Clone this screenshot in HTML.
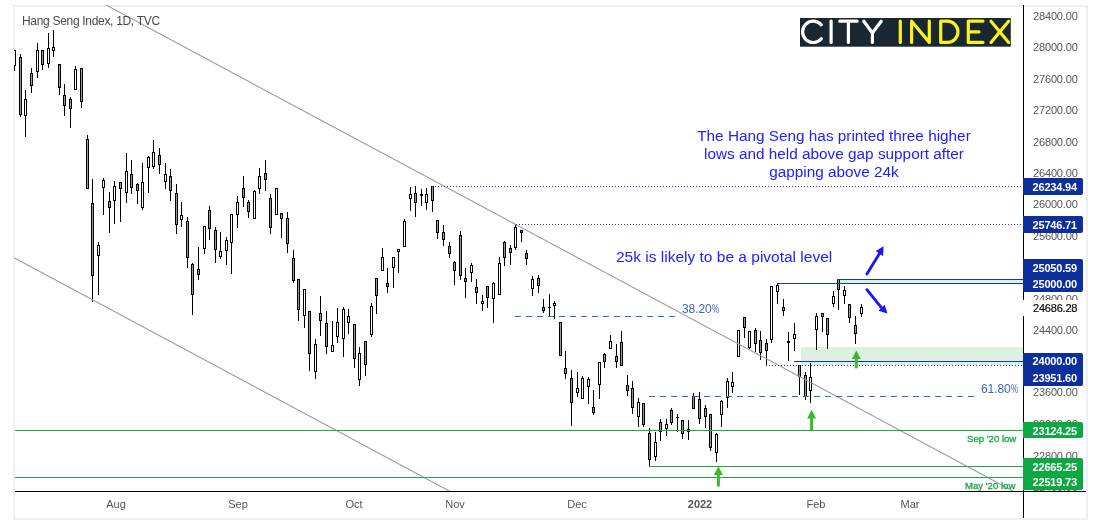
<!DOCTYPE html>
<html><head><meta charset="utf-8">
<style>
html,body{margin:0;padding:0;background:#fff;}
body{width:1097px;height:524px;overflow:hidden;position:relative;font-family:"Liberation Sans",sans-serif;}
#frame{position:absolute;left:13px;top:5px;width:1075px;height:515px;box-sizing:border-box;border:2px solid #eef0f5;}
svg{position:absolute;left:0;top:0;}
.t{position:absolute;white-space:nowrap;}
.t,.ann,.pl,.bx,.xl{will-change:transform;}
.pl{position:absolute;left:1033px;font-size:11px;line-height:11px;color:#555;letter-spacing:-0.15px;}
.bx{position:absolute;left:1023px;width:59.9px;height:16px;overflow:hidden;box-sizing:border-box;border-radius:0 2px 2px 0;color:#fff;font-weight:bold;font-size:11px;line-height:16px;padding-left:9.6px;letter-spacing:-0.2px;}
.bl{background:#0d2f9c;}
.gr{background:#0ea843;}
.xl{position:absolute;top:498px;font-size:11px;line-height:12px;color:#555;transform:translateX(-50%);}
.ann{position:absolute;color:#2020ff;font-size:15.33px;line-height:17.9px;text-align:center;white-space:nowrap;}
</style></head><body>
<div id="frame"></div>
<svg width="1097" height="524" viewBox="0 0 1097 524">
<defs><clipPath id="cp"><rect x="14" y="5" width="1010" height="486"/></clipPath></defs>
<g clip-path="url(#cp)">
<g shape-rendering="crispEdges">
<rect x="801" y="347" width="223" height="18" fill="#dcf1e2"/>
<rect x="838" y="280" width="186" height="3" fill="#dcf1e2"/>
<rect x="14" y="66" width="1" height="5" fill="#000"/>
<rect x="13" y="50" width="3" height="16" fill="#000"/>
<rect x="14" y="51" width="1" height="14" fill="#fff"/>
<rect x="20" y="54" width="1" height="3" fill="#000"/>
<rect x="20" y="115" width="1" height="2" fill="#000"/>
<rect x="19" y="57" width="3" height="58" fill="#000"/>
<rect x="20" y="58" width="1" height="56" fill="#9598a1"/>
<rect x="25" y="90" width="1" height="9" fill="#000"/>
<rect x="25" y="116" width="1" height="21" fill="#000"/>
<rect x="24" y="99" width="3" height="17" fill="#000"/>
<rect x="25" y="100" width="1" height="15" fill="#fff"/>
<rect x="31" y="68" width="1" height="5" fill="#000"/>
<rect x="31" y="86" width="1" height="7" fill="#000"/>
<rect x="30" y="73" width="3" height="13" fill="#000"/>
<rect x="31" y="74" width="1" height="11" fill="#9598a1"/>
<rect x="37" y="43" width="1" height="7" fill="#000"/>
<rect x="37" y="72" width="1" height="6" fill="#000"/>
<rect x="36" y="50" width="3" height="22" fill="#000"/>
<rect x="37" y="51" width="1" height="20" fill="#fff"/>
<rect x="42" y="65" width="1" height="5" fill="#000"/>
<rect x="41" y="50" width="3" height="15" fill="#000"/>
<rect x="42" y="51" width="1" height="13" fill="#9598a1"/>
<rect x="48" y="33" width="1" height="15" fill="#000"/>
<rect x="48" y="64" width="1" height="4" fill="#000"/>
<rect x="47" y="48" width="3" height="16" fill="#000"/>
<rect x="48" y="49" width="1" height="14" fill="#fff"/>
<rect x="53" y="30" width="1" height="17" fill="#000"/>
<rect x="53" y="51" width="1" height="6" fill="#000"/>
<rect x="52" y="47" width="3" height="4" fill="#000"/>
<rect x="53" y="48" width="1" height="2" fill="#fff"/>
<rect x="59" y="88" width="1" height="7" fill="#000"/>
<rect x="58" y="64" width="3" height="24" fill="#000"/>
<rect x="59" y="65" width="1" height="22" fill="#9598a1"/>
<rect x="64" y="84" width="1" height="11" fill="#000"/>
<rect x="64" y="106" width="1" height="10" fill="#000"/>
<rect x="63" y="95" width="3" height="11" fill="#000"/>
<rect x="64" y="96" width="1" height="9" fill="#9598a1"/>
<rect x="70" y="97" width="1" height="2" fill="#000"/>
<rect x="70" y="109" width="1" height="19" fill="#000"/>
<rect x="69" y="99" width="3" height="10" fill="#000"/>
<rect x="70" y="100" width="1" height="8" fill="#9598a1"/>
<rect x="75" y="66" width="1" height="3" fill="#000"/>
<rect x="74" y="69" width="3" height="21" fill="#000"/>
<rect x="75" y="70" width="1" height="19" fill="#fff"/>
<rect x="81" y="102" width="1" height="6" fill="#000"/>
<rect x="80" y="68" width="3" height="34" fill="#000"/>
<rect x="81" y="69" width="1" height="32" fill="#9598a1"/>
<rect x="87" y="135" width="1" height="4" fill="#000"/>
<rect x="86" y="139" width="3" height="50" fill="#000"/>
<rect x="87" y="140" width="1" height="48" fill="#9598a1"/>
<rect x="92" y="179" width="1" height="24" fill="#000"/>
<rect x="92" y="276" width="1" height="26" fill="#000"/>
<rect x="91" y="203" width="3" height="73" fill="#000"/>
<rect x="92" y="204" width="1" height="71" fill="#9598a1"/>
<rect x="98" y="242" width="1" height="3" fill="#000"/>
<rect x="98" y="256" width="1" height="39" fill="#000"/>
<rect x="97" y="245" width="3" height="11" fill="#000"/>
<rect x="98" y="246" width="1" height="9" fill="#fff"/>
<rect x="103" y="178" width="1" height="2" fill="#000"/>
<rect x="103" y="188" width="1" height="27" fill="#000"/>
<rect x="102" y="180" width="3" height="8" fill="#000"/>
<rect x="103" y="181" width="1" height="6" fill="#fff"/>
<rect x="109" y="192" width="1" height="9" fill="#000"/>
<rect x="109" y="208" width="1" height="25" fill="#000"/>
<rect x="108" y="201" width="3" height="7" fill="#000"/>
<rect x="109" y="202" width="1" height="5" fill="#9598a1"/>
<rect x="114" y="181" width="1" height="5" fill="#000"/>
<rect x="114" y="201" width="1" height="23" fill="#000"/>
<rect x="113" y="186" width="3" height="15" fill="#000"/>
<rect x="114" y="187" width="1" height="13" fill="#fff"/>
<rect x="120" y="189" width="1" height="33" fill="#000"/>
<rect x="119" y="182" width="3" height="7" fill="#000"/>
<rect x="120" y="183" width="1" height="5" fill="#9598a1"/>
<rect x="126" y="153" width="1" height="18" fill="#000"/>
<rect x="126" y="193" width="1" height="10" fill="#000"/>
<rect x="125" y="171" width="3" height="22" fill="#000"/>
<rect x="126" y="172" width="1" height="20" fill="#fff"/>
<rect x="131" y="160" width="1" height="14" fill="#000"/>
<rect x="131" y="188" width="1" height="6" fill="#000"/>
<rect x="130" y="174" width="3" height="14" fill="#000"/>
<rect x="131" y="175" width="1" height="12" fill="#9598a1"/>
<rect x="137" y="183" width="1" height="1" fill="#000"/>
<rect x="137" y="191" width="1" height="13" fill="#000"/>
<rect x="136" y="184" width="3" height="7" fill="#000"/>
<rect x="137" y="185" width="1" height="5" fill="#9598a1"/>
<rect x="142" y="163" width="1" height="19" fill="#000"/>
<rect x="142" y="208" width="1" height="2" fill="#000"/>
<rect x="141" y="182" width="3" height="26" fill="#000"/>
<rect x="142" y="183" width="1" height="24" fill="#fff"/>
<rect x="148" y="156" width="1" height="1" fill="#000"/>
<rect x="148" y="168" width="1" height="25" fill="#000"/>
<rect x="147" y="157" width="3" height="11" fill="#000"/>
<rect x="148" y="158" width="1" height="9" fill="#fff"/>
<rect x="153" y="140" width="1" height="12" fill="#000"/>
<rect x="153" y="167" width="1" height="2" fill="#000"/>
<rect x="152" y="152" width="3" height="15" fill="#000"/>
<rect x="153" y="153" width="1" height="13" fill="#fff"/>
<rect x="159" y="148" width="1" height="7" fill="#000"/>
<rect x="159" y="165" width="1" height="9" fill="#000"/>
<rect x="158" y="155" width="3" height="10" fill="#000"/>
<rect x="159" y="156" width="1" height="8" fill="#9598a1"/>
<rect x="165" y="163" width="1" height="11" fill="#000"/>
<rect x="165" y="182" width="1" height="7" fill="#000"/>
<rect x="164" y="174" width="3" height="8" fill="#000"/>
<rect x="165" y="175" width="1" height="6" fill="#fff"/>
<rect x="170" y="169" width="1" height="7" fill="#000"/>
<rect x="170" y="191" width="1" height="10" fill="#000"/>
<rect x="169" y="176" width="3" height="15" fill="#000"/>
<rect x="170" y="177" width="1" height="13" fill="#9598a1"/>
<rect x="176" y="184" width="1" height="9" fill="#000"/>
<rect x="176" y="225" width="1" height="9" fill="#000"/>
<rect x="175" y="193" width="3" height="32" fill="#000"/>
<rect x="176" y="194" width="1" height="30" fill="#9598a1"/>
<rect x="181" y="202" width="1" height="13" fill="#000"/>
<rect x="181" y="220" width="1" height="7" fill="#000"/>
<rect x="180" y="215" width="3" height="5" fill="#000"/>
<rect x="181" y="216" width="1" height="3" fill="#fff"/>
<rect x="187" y="217" width="1" height="4" fill="#000"/>
<rect x="187" y="258" width="1" height="10" fill="#000"/>
<rect x="186" y="221" width="3" height="37" fill="#000"/>
<rect x="187" y="222" width="1" height="35" fill="#9598a1"/>
<rect x="192" y="263" width="1" height="1" fill="#000"/>
<rect x="192" y="295" width="1" height="20" fill="#000"/>
<rect x="191" y="264" width="3" height="31" fill="#000"/>
<rect x="192" y="265" width="1" height="29" fill="#9598a1"/>
<rect x="198" y="247" width="1" height="22" fill="#000"/>
<rect x="198" y="275" width="1" height="5" fill="#000"/>
<rect x="197" y="269" width="3" height="6" fill="#000"/>
<rect x="198" y="270" width="1" height="4" fill="#9598a1"/>
<rect x="204" y="249" width="1" height="5" fill="#000"/>
<rect x="203" y="226" width="3" height="23" fill="#000"/>
<rect x="204" y="227" width="1" height="21" fill="#fff"/>
<rect x="209" y="206" width="1" height="4" fill="#000"/>
<rect x="209" y="229" width="1" height="11" fill="#000"/>
<rect x="208" y="210" width="3" height="19" fill="#000"/>
<rect x="209" y="211" width="1" height="17" fill="#9598a1"/>
<rect x="215" y="227" width="1" height="3" fill="#000"/>
<rect x="215" y="250" width="1" height="13" fill="#000"/>
<rect x="214" y="230" width="3" height="20" fill="#000"/>
<rect x="215" y="231" width="1" height="18" fill="#9598a1"/>
<rect x="220" y="232" width="1" height="19" fill="#000"/>
<rect x="220" y="257" width="1" height="2" fill="#000"/>
<rect x="219" y="251" width="3" height="6" fill="#000"/>
<rect x="220" y="252" width="1" height="4" fill="#fff"/>
<rect x="226" y="237" width="1" height="3" fill="#000"/>
<rect x="226" y="251" width="1" height="14" fill="#000"/>
<rect x="225" y="240" width="3" height="11" fill="#000"/>
<rect x="226" y="241" width="1" height="9" fill="#fff"/>
<rect x="231" y="243" width="1" height="31" fill="#000"/>
<rect x="230" y="214" width="3" height="29" fill="#000"/>
<rect x="231" y="215" width="1" height="27" fill="#fff"/>
<rect x="237" y="196" width="1" height="6" fill="#000"/>
<rect x="237" y="215" width="1" height="13" fill="#000"/>
<rect x="236" y="202" width="3" height="13" fill="#000"/>
<rect x="237" y="203" width="1" height="11" fill="#fff"/>
<rect x="243" y="176" width="1" height="12" fill="#000"/>
<rect x="243" y="198" width="1" height="9" fill="#000"/>
<rect x="242" y="188" width="3" height="10" fill="#000"/>
<rect x="243" y="189" width="1" height="8" fill="#9598a1"/>
<rect x="248" y="200" width="1" height="2" fill="#000"/>
<rect x="248" y="212" width="1" height="6" fill="#000"/>
<rect x="247" y="202" width="3" height="10" fill="#000"/>
<rect x="248" y="203" width="1" height="8" fill="#9598a1"/>
<rect x="254" y="190" width="1" height="1" fill="#000"/>
<rect x="253" y="191" width="3" height="28" fill="#000"/>
<rect x="254" y="192" width="1" height="26" fill="#fff"/>
<rect x="259" y="168" width="1" height="8" fill="#000"/>
<rect x="259" y="189" width="1" height="5" fill="#000"/>
<rect x="258" y="176" width="3" height="13" fill="#000"/>
<rect x="259" y="177" width="1" height="11" fill="#fff"/>
<rect x="265" y="160" width="1" height="13" fill="#000"/>
<rect x="265" y="180" width="1" height="11" fill="#000"/>
<rect x="264" y="173" width="3" height="7" fill="#000"/>
<rect x="265" y="174" width="1" height="5" fill="#9598a1"/>
<rect x="270" y="194" width="1" height="4" fill="#000"/>
<rect x="270" y="228" width="1" height="6" fill="#000"/>
<rect x="269" y="198" width="3" height="30" fill="#000"/>
<rect x="270" y="199" width="1" height="28" fill="#9598a1"/>
<rect x="275" y="188" width="3" height="27" fill="#000"/>
<rect x="276" y="189" width="1" height="25" fill="#fff"/>
<rect x="281" y="219" width="1" height="19" fill="#000"/>
<rect x="280" y="213" width="3" height="6" fill="#000"/>
<rect x="281" y="214" width="1" height="4" fill="#9598a1"/>
<rect x="287" y="212" width="1" height="6" fill="#000"/>
<rect x="287" y="244" width="1" height="9" fill="#000"/>
<rect x="286" y="218" width="3" height="26" fill="#000"/>
<rect x="287" y="219" width="1" height="24" fill="#9598a1"/>
<rect x="293" y="250" width="1" height="8" fill="#000"/>
<rect x="293" y="281" width="1" height="2" fill="#000"/>
<rect x="292" y="258" width="3" height="23" fill="#000"/>
<rect x="293" y="259" width="1" height="21" fill="#9598a1"/>
<rect x="298" y="310" width="1" height="11" fill="#000"/>
<rect x="297" y="279" width="3" height="31" fill="#000"/>
<rect x="298" y="280" width="1" height="29" fill="#9598a1"/>
<rect x="304" y="316" width="1" height="12" fill="#000"/>
<rect x="303" y="289" width="3" height="27" fill="#000"/>
<rect x="304" y="290" width="1" height="25" fill="#fff"/>
<rect x="309" y="354" width="1" height="17" fill="#000"/>
<rect x="308" y="311" width="3" height="43" fill="#000"/>
<rect x="309" y="312" width="1" height="41" fill="#9598a1"/>
<rect x="315" y="339" width="1" height="5" fill="#000"/>
<rect x="315" y="372" width="1" height="7" fill="#000"/>
<rect x="314" y="344" width="3" height="28" fill="#000"/>
<rect x="315" y="345" width="1" height="26" fill="#fff"/>
<rect x="320" y="296" width="1" height="17" fill="#000"/>
<rect x="320" y="321" width="1" height="15" fill="#000"/>
<rect x="319" y="313" width="3" height="8" fill="#000"/>
<rect x="320" y="314" width="1" height="6" fill="#9598a1"/>
<rect x="326" y="311" width="1" height="12" fill="#000"/>
<rect x="326" y="347" width="1" height="7" fill="#000"/>
<rect x="325" y="323" width="3" height="24" fill="#000"/>
<rect x="326" y="324" width="1" height="22" fill="#9598a1"/>
<rect x="332" y="321" width="1" height="24" fill="#000"/>
<rect x="331" y="345" width="3" height="7" fill="#000"/>
<rect x="332" y="346" width="1" height="5" fill="#fff"/>
<rect x="337" y="308" width="1" height="14" fill="#000"/>
<rect x="337" y="337" width="1" height="6" fill="#000"/>
<rect x="336" y="322" width="3" height="15" fill="#000"/>
<rect x="337" y="323" width="1" height="13" fill="#fff"/>
<rect x="343" y="307" width="1" height="2" fill="#000"/>
<rect x="343" y="339" width="1" height="18" fill="#000"/>
<rect x="342" y="309" width="3" height="30" fill="#000"/>
<rect x="343" y="310" width="1" height="28" fill="#fff"/>
<rect x="348" y="309" width="1" height="7" fill="#000"/>
<rect x="348" y="323" width="1" height="11" fill="#000"/>
<rect x="347" y="316" width="3" height="7" fill="#000"/>
<rect x="348" y="317" width="1" height="5" fill="#fff"/>
<rect x="354" y="359" width="1" height="9" fill="#000"/>
<rect x="353" y="324" width="3" height="35" fill="#000"/>
<rect x="354" y="325" width="1" height="33" fill="#9598a1"/>
<rect x="359" y="347" width="1" height="6" fill="#000"/>
<rect x="359" y="380" width="1" height="6" fill="#000"/>
<rect x="358" y="353" width="3" height="27" fill="#000"/>
<rect x="359" y="354" width="1" height="25" fill="#fff"/>
<rect x="365" y="365" width="1" height="11" fill="#000"/>
<rect x="364" y="341" width="3" height="24" fill="#000"/>
<rect x="365" y="342" width="1" height="22" fill="#9598a1"/>
<rect x="371" y="303" width="1" height="3" fill="#000"/>
<rect x="371" y="335" width="1" height="2" fill="#000"/>
<rect x="370" y="306" width="3" height="29" fill="#000"/>
<rect x="371" y="307" width="1" height="27" fill="#fff"/>
<rect x="376" y="296" width="1" height="18" fill="#000"/>
<rect x="375" y="278" width="3" height="18" fill="#000"/>
<rect x="376" y="279" width="1" height="16" fill="#9598a1"/>
<rect x="382" y="248" width="1" height="9" fill="#000"/>
<rect x="381" y="257" width="3" height="14" fill="#000"/>
<rect x="382" y="258" width="1" height="12" fill="#fff"/>
<rect x="387" y="268" width="1" height="15" fill="#000"/>
<rect x="387" y="287" width="1" height="6" fill="#000"/>
<rect x="386" y="283" width="3" height="4" fill="#000"/>
<rect x="387" y="284" width="1" height="2" fill="#9598a1"/>
<rect x="393" y="268" width="1" height="20" fill="#000"/>
<rect x="392" y="257" width="3" height="11" fill="#000"/>
<rect x="393" y="258" width="1" height="9" fill="#fff"/>
<rect x="398" y="252" width="1" height="21" fill="#000"/>
<rect x="397" y="249" width="3" height="3" fill="#000"/>
<rect x="398" y="250" width="1" height="1" fill="#fff"/>
<rect x="404" y="219" width="1" height="2" fill="#000"/>
<rect x="403" y="221" width="3" height="26" fill="#000"/>
<rect x="404" y="222" width="1" height="24" fill="#fff"/>
<rect x="410" y="187" width="1" height="7" fill="#000"/>
<rect x="410" y="199" width="1" height="12" fill="#000"/>
<rect x="409" y="194" width="3" height="5" fill="#000"/>
<rect x="410" y="195" width="1" height="3" fill="#fff"/>
<rect x="415" y="186" width="1" height="7" fill="#000"/>
<rect x="415" y="203" width="1" height="14" fill="#000"/>
<rect x="414" y="193" width="3" height="10" fill="#000"/>
<rect x="415" y="194" width="1" height="8" fill="#9598a1"/>
<rect x="421" y="189" width="1" height="5" fill="#000"/>
<rect x="421" y="196" width="1" height="10" fill="#000"/>
<rect x="420" y="194" width="3" height="2" fill="#000"/>
<rect x="426" y="188" width="1" height="6" fill="#000"/>
<rect x="426" y="203" width="1" height="7" fill="#000"/>
<rect x="425" y="194" width="3" height="9" fill="#000"/>
<rect x="426" y="195" width="1" height="7" fill="#fff"/>
<rect x="432" y="201" width="1" height="11" fill="#000"/>
<rect x="431" y="186" width="3" height="15" fill="#000"/>
<rect x="432" y="187" width="1" height="13" fill="#9598a1"/>
<rect x="437" y="233" width="1" height="6" fill="#000"/>
<rect x="436" y="220" width="3" height="13" fill="#000"/>
<rect x="437" y="221" width="1" height="11" fill="#9598a1"/>
<rect x="443" y="225" width="1" height="7" fill="#000"/>
<rect x="443" y="240" width="1" height="6" fill="#000"/>
<rect x="442" y="232" width="3" height="8" fill="#000"/>
<rect x="443" y="233" width="1" height="6" fill="#9598a1"/>
<rect x="449" y="242" width="1" height="4" fill="#000"/>
<rect x="449" y="254" width="1" height="4" fill="#000"/>
<rect x="448" y="246" width="3" height="8" fill="#000"/>
<rect x="449" y="247" width="1" height="6" fill="#9598a1"/>
<rect x="454" y="261" width="1" height="1" fill="#000"/>
<rect x="454" y="271" width="1" height="14" fill="#000"/>
<rect x="453" y="262" width="3" height="9" fill="#000"/>
<rect x="454" y="263" width="1" height="7" fill="#9598a1"/>
<rect x="460" y="231" width="1" height="4" fill="#000"/>
<rect x="460" y="276" width="1" height="4" fill="#000"/>
<rect x="459" y="235" width="3" height="41" fill="#000"/>
<rect x="460" y="236" width="1" height="39" fill="#9598a1"/>
<rect x="465" y="268" width="1" height="10" fill="#000"/>
<rect x="465" y="282" width="1" height="16" fill="#000"/>
<rect x="464" y="278" width="3" height="4" fill="#000"/>
<rect x="465" y="279" width="1" height="2" fill="#9598a1"/>
<rect x="471" y="263" width="1" height="2" fill="#000"/>
<rect x="471" y="273" width="1" height="9" fill="#000"/>
<rect x="470" y="265" width="3" height="8" fill="#000"/>
<rect x="471" y="266" width="1" height="6" fill="#fff"/>
<rect x="476" y="279" width="1" height="8" fill="#000"/>
<rect x="476" y="293" width="1" height="11" fill="#000"/>
<rect x="475" y="287" width="3" height="6" fill="#000"/>
<rect x="476" y="288" width="1" height="4" fill="#9598a1"/>
<rect x="482" y="295" width="1" height="6" fill="#000"/>
<rect x="482" y="304" width="1" height="7" fill="#000"/>
<rect x="481" y="301" width="3" height="3" fill="#000"/>
<rect x="482" y="302" width="1" height="1" fill="#fff"/>
<rect x="487" y="298" width="1" height="10" fill="#000"/>
<rect x="486" y="286" width="3" height="12" fill="#000"/>
<rect x="487" y="287" width="1" height="10" fill="#9598a1"/>
<rect x="493" y="282" width="1" height="1" fill="#000"/>
<rect x="493" y="299" width="1" height="24" fill="#000"/>
<rect x="492" y="283" width="3" height="16" fill="#000"/>
<rect x="493" y="284" width="1" height="14" fill="#fff"/>
<rect x="499" y="257" width="1" height="6" fill="#000"/>
<rect x="498" y="263" width="3" height="32" fill="#000"/>
<rect x="499" y="264" width="1" height="30" fill="#fff"/>
<rect x="504" y="241" width="1" height="1" fill="#000"/>
<rect x="504" y="258" width="1" height="8" fill="#000"/>
<rect x="503" y="242" width="3" height="16" fill="#000"/>
<rect x="504" y="243" width="1" height="14" fill="#9598a1"/>
<rect x="510" y="245" width="1" height="3" fill="#000"/>
<rect x="510" y="253" width="1" height="12" fill="#000"/>
<rect x="509" y="248" width="3" height="5" fill="#000"/>
<rect x="510" y="249" width="1" height="3" fill="#9598a1"/>
<rect x="515" y="224" width="1" height="3" fill="#000"/>
<rect x="515" y="248" width="1" height="2" fill="#000"/>
<rect x="514" y="227" width="3" height="21" fill="#000"/>
<rect x="515" y="228" width="1" height="19" fill="#fff"/>
<rect x="521" y="233" width="1" height="9" fill="#000"/>
<rect x="520" y="230" width="3" height="3" fill="#000"/>
<rect x="521" y="231" width="1" height="1" fill="#9598a1"/>
<rect x="526" y="250" width="1" height="3" fill="#000"/>
<rect x="526" y="259" width="1" height="6" fill="#000"/>
<rect x="525" y="253" width="3" height="6" fill="#000"/>
<rect x="526" y="254" width="1" height="4" fill="#9598a1"/>
<rect x="532" y="276" width="1" height="3" fill="#000"/>
<rect x="532" y="289" width="1" height="7" fill="#000"/>
<rect x="531" y="279" width="3" height="10" fill="#000"/>
<rect x="532" y="280" width="1" height="8" fill="#fff"/>
<rect x="538" y="275" width="1" height="3" fill="#000"/>
<rect x="538" y="286" width="1" height="7" fill="#000"/>
<rect x="537" y="278" width="3" height="8" fill="#000"/>
<rect x="538" y="279" width="1" height="6" fill="#9598a1"/>
<rect x="543" y="299" width="1" height="8" fill="#000"/>
<rect x="543" y="311" width="1" height="2" fill="#000"/>
<rect x="542" y="307" width="3" height="4" fill="#000"/>
<rect x="543" y="308" width="1" height="2" fill="#9598a1"/>
<rect x="549" y="294" width="1" height="13" fill="#000"/>
<rect x="549" y="308" width="1" height="8" fill="#000"/>
<rect x="548" y="307" width="3" height="1" fill="#000"/>
<rect x="554" y="301" width="1" height="2" fill="#000"/>
<rect x="554" y="306" width="1" height="13" fill="#000"/>
<rect x="553" y="303" width="3" height="3" fill="#000"/>
<rect x="554" y="304" width="1" height="1" fill="#fff"/>
<rect x="559" y="322" width="3" height="34" fill="#000"/>
<rect x="560" y="323" width="1" height="32" fill="#9598a1"/>
<rect x="565" y="351" width="1" height="17" fill="#000"/>
<rect x="565" y="374" width="1" height="5" fill="#000"/>
<rect x="564" y="368" width="3" height="6" fill="#000"/>
<rect x="565" y="369" width="1" height="4" fill="#9598a1"/>
<rect x="571" y="370" width="1" height="8" fill="#000"/>
<rect x="571" y="403" width="1" height="23" fill="#000"/>
<rect x="570" y="378" width="3" height="25" fill="#000"/>
<rect x="571" y="379" width="1" height="23" fill="#9598a1"/>
<rect x="577" y="372" width="1" height="16" fill="#000"/>
<rect x="577" y="393" width="1" height="4" fill="#000"/>
<rect x="576" y="388" width="3" height="5" fill="#000"/>
<rect x="577" y="389" width="1" height="3" fill="#fff"/>
<rect x="582" y="376" width="1" height="2" fill="#000"/>
<rect x="581" y="378" width="3" height="21" fill="#000"/>
<rect x="582" y="379" width="1" height="19" fill="#fff"/>
<rect x="588" y="377" width="1" height="2" fill="#000"/>
<rect x="588" y="387" width="1" height="17" fill="#000"/>
<rect x="587" y="379" width="3" height="8" fill="#000"/>
<rect x="588" y="380" width="1" height="6" fill="#fff"/>
<rect x="593" y="390" width="1" height="17" fill="#000"/>
<rect x="593" y="413" width="1" height="2" fill="#000"/>
<rect x="592" y="407" width="3" height="6" fill="#000"/>
<rect x="593" y="408" width="1" height="4" fill="#9598a1"/>
<rect x="599" y="385" width="1" height="14" fill="#000"/>
<rect x="598" y="362" width="3" height="23" fill="#000"/>
<rect x="599" y="363" width="1" height="21" fill="#fff"/>
<rect x="604" y="353" width="1" height="1" fill="#000"/>
<rect x="604" y="362" width="1" height="6" fill="#000"/>
<rect x="603" y="354" width="3" height="8" fill="#000"/>
<rect x="604" y="355" width="1" height="6" fill="#9598a1"/>
<rect x="610" y="335" width="1" height="6" fill="#000"/>
<rect x="609" y="341" width="3" height="8" fill="#000"/>
<rect x="610" y="342" width="1" height="6" fill="#fff"/>
<rect x="616" y="344" width="1" height="12" fill="#000"/>
<rect x="616" y="362" width="1" height="6" fill="#000"/>
<rect x="615" y="356" width="3" height="6" fill="#000"/>
<rect x="616" y="357" width="1" height="4" fill="#9598a1"/>
<rect x="621" y="331" width="1" height="11" fill="#000"/>
<rect x="620" y="342" width="3" height="24" fill="#000"/>
<rect x="621" y="343" width="1" height="22" fill="#9598a1"/>
<rect x="627" y="375" width="1" height="10" fill="#000"/>
<rect x="627" y="391" width="1" height="5" fill="#000"/>
<rect x="626" y="385" width="3" height="6" fill="#000"/>
<rect x="627" y="386" width="1" height="4" fill="#9598a1"/>
<rect x="632" y="381" width="1" height="7" fill="#000"/>
<rect x="632" y="408" width="1" height="6" fill="#000"/>
<rect x="631" y="388" width="3" height="20" fill="#000"/>
<rect x="632" y="389" width="1" height="18" fill="#9598a1"/>
<rect x="638" y="398" width="1" height="4" fill="#000"/>
<rect x="638" y="417" width="1" height="10" fill="#000"/>
<rect x="637" y="402" width="3" height="15" fill="#000"/>
<rect x="638" y="403" width="1" height="13" fill="#fff"/>
<rect x="643" y="425" width="1" height="2" fill="#000"/>
<rect x="642" y="403" width="3" height="22" fill="#000"/>
<rect x="643" y="404" width="1" height="20" fill="#9598a1"/>
<rect x="649" y="428" width="1" height="5" fill="#000"/>
<rect x="649" y="460" width="1" height="6" fill="#000"/>
<rect x="648" y="433" width="3" height="27" fill="#000"/>
<rect x="649" y="434" width="1" height="25" fill="#9598a1"/>
<rect x="655" y="432" width="1" height="10" fill="#000"/>
<rect x="655" y="457" width="1" height="4" fill="#000"/>
<rect x="654" y="442" width="3" height="15" fill="#000"/>
<rect x="655" y="443" width="1" height="13" fill="#fff"/>
<rect x="660" y="419" width="1" height="3" fill="#000"/>
<rect x="660" y="432" width="1" height="9" fill="#000"/>
<rect x="659" y="422" width="3" height="10" fill="#000"/>
<rect x="660" y="423" width="1" height="8" fill="#9598a1"/>
<rect x="666" y="419" width="1" height="5" fill="#000"/>
<rect x="666" y="429" width="1" height="7" fill="#000"/>
<rect x="665" y="424" width="3" height="5" fill="#000"/>
<rect x="666" y="425" width="1" height="3" fill="#fff"/>
<rect x="671" y="408" width="1" height="2" fill="#000"/>
<rect x="671" y="423" width="1" height="2" fill="#000"/>
<rect x="670" y="410" width="3" height="13" fill="#000"/>
<rect x="671" y="411" width="1" height="11" fill="#9598a1"/>
<rect x="677" y="414" width="1" height="3" fill="#000"/>
<rect x="677" y="418" width="1" height="14" fill="#000"/>
<rect x="676" y="417" width="3" height="1" fill="#000"/>
<rect x="682" y="434" width="1" height="5" fill="#000"/>
<rect x="681" y="420" width="3" height="14" fill="#000"/>
<rect x="682" y="421" width="1" height="12" fill="#9598a1"/>
<rect x="688" y="420" width="1" height="9" fill="#000"/>
<rect x="688" y="432" width="1" height="8" fill="#000"/>
<rect x="687" y="429" width="3" height="3" fill="#000"/>
<rect x="688" y="430" width="1" height="1" fill="#9598a1"/>
<rect x="693" y="393" width="1" height="3" fill="#000"/>
<rect x="692" y="396" width="3" height="13" fill="#000"/>
<rect x="693" y="397" width="1" height="11" fill="#9598a1"/>
<rect x="699" y="392" width="1" height="7" fill="#000"/>
<rect x="699" y="419" width="1" height="5" fill="#000"/>
<rect x="698" y="399" width="3" height="20" fill="#000"/>
<rect x="699" y="400" width="1" height="18" fill="#9598a1"/>
<rect x="705" y="405" width="1" height="3" fill="#000"/>
<rect x="705" y="417" width="1" height="11" fill="#000"/>
<rect x="704" y="408" width="3" height="9" fill="#000"/>
<rect x="705" y="409" width="1" height="7" fill="#9598a1"/>
<rect x="710" y="448" width="1" height="3" fill="#000"/>
<rect x="709" y="414" width="3" height="34" fill="#000"/>
<rect x="710" y="415" width="1" height="32" fill="#9598a1"/>
<rect x="716" y="433" width="1" height="1" fill="#000"/>
<rect x="716" y="453" width="1" height="9" fill="#000"/>
<rect x="715" y="434" width="3" height="19" fill="#000"/>
<rect x="716" y="435" width="1" height="17" fill="#fff"/>
<rect x="721" y="400" width="1" height="1" fill="#000"/>
<rect x="721" y="415" width="1" height="12" fill="#000"/>
<rect x="720" y="401" width="3" height="14" fill="#000"/>
<rect x="721" y="402" width="1" height="12" fill="#fff"/>
<rect x="727" y="378" width="1" height="3" fill="#000"/>
<rect x="727" y="398" width="1" height="10" fill="#000"/>
<rect x="726" y="381" width="3" height="17" fill="#000"/>
<rect x="727" y="382" width="1" height="15" fill="#fff"/>
<rect x="732" y="372" width="1" height="10" fill="#000"/>
<rect x="732" y="387" width="1" height="6" fill="#000"/>
<rect x="731" y="382" width="3" height="5" fill="#000"/>
<rect x="732" y="383" width="1" height="3" fill="#fff"/>
<rect x="737" y="330" width="3" height="27" fill="#000"/>
<rect x="738" y="331" width="1" height="25" fill="#fff"/>
<rect x="744" y="328" width="1" height="10" fill="#000"/>
<rect x="743" y="317" width="3" height="11" fill="#000"/>
<rect x="744" y="318" width="1" height="9" fill="#9598a1"/>
<rect x="749" y="348" width="1" height="1" fill="#000"/>
<rect x="748" y="331" width="3" height="17" fill="#000"/>
<rect x="749" y="332" width="1" height="15" fill="#fff"/>
<rect x="755" y="328" width="1" height="2" fill="#000"/>
<rect x="755" y="344" width="1" height="8" fill="#000"/>
<rect x="754" y="330" width="3" height="14" fill="#000"/>
<rect x="755" y="331" width="1" height="12" fill="#9598a1"/>
<rect x="760" y="331" width="1" height="9" fill="#000"/>
<rect x="760" y="353" width="1" height="7" fill="#000"/>
<rect x="759" y="340" width="3" height="13" fill="#000"/>
<rect x="760" y="341" width="1" height="11" fill="#9598a1"/>
<rect x="766" y="339" width="1" height="4" fill="#000"/>
<rect x="766" y="351" width="1" height="14" fill="#000"/>
<rect x="765" y="343" width="3" height="8" fill="#000"/>
<rect x="766" y="344" width="1" height="6" fill="#9598a1"/>
<rect x="771" y="340" width="1" height="3" fill="#000"/>
<rect x="770" y="286" width="3" height="54" fill="#000"/>
<rect x="771" y="287" width="1" height="52" fill="#fff"/>
<rect x="777" y="283" width="1" height="2" fill="#000"/>
<rect x="777" y="292" width="1" height="12" fill="#000"/>
<rect x="776" y="285" width="3" height="7" fill="#000"/>
<rect x="777" y="286" width="1" height="5" fill="#fff"/>
<rect x="783" y="299" width="1" height="8" fill="#000"/>
<rect x="783" y="311" width="1" height="5" fill="#000"/>
<rect x="782" y="307" width="3" height="4" fill="#000"/>
<rect x="783" y="308" width="1" height="2" fill="#9598a1"/>
<rect x="788" y="332" width="1" height="9" fill="#000"/>
<rect x="788" y="343" width="1" height="18" fill="#000"/>
<rect x="787" y="341" width="3" height="2" fill="#000"/>
<rect x="794" y="323" width="1" height="11" fill="#000"/>
<rect x="794" y="339" width="1" height="12" fill="#000"/>
<rect x="793" y="334" width="3" height="5" fill="#000"/>
<rect x="794" y="335" width="1" height="3" fill="#fff"/>
<rect x="799" y="377" width="1" height="18" fill="#000"/>
<rect x="798" y="365" width="3" height="12" fill="#000"/>
<rect x="799" y="366" width="1" height="10" fill="#9598a1"/>
<rect x="805" y="372" width="1" height="3" fill="#000"/>
<rect x="805" y="397" width="1" height="3" fill="#000"/>
<rect x="804" y="375" width="3" height="22" fill="#000"/>
<rect x="805" y="376" width="1" height="20" fill="#9598a1"/>
<rect x="810" y="363" width="1" height="14" fill="#000"/>
<rect x="810" y="391" width="1" height="12" fill="#000"/>
<rect x="809" y="377" width="3" height="14" fill="#000"/>
<rect x="810" y="378" width="1" height="12" fill="#fff"/>
<rect x="816" y="313" width="1" height="3" fill="#000"/>
<rect x="816" y="330" width="1" height="20" fill="#000"/>
<rect x="815" y="316" width="3" height="14" fill="#000"/>
<rect x="816" y="317" width="1" height="12" fill="#fff"/>
<rect x="822" y="317" width="1" height="15" fill="#000"/>
<rect x="821" y="313" width="3" height="4" fill="#000"/>
<rect x="822" y="314" width="1" height="2" fill="#9598a1"/>
<rect x="827" y="335" width="1" height="14" fill="#000"/>
<rect x="826" y="318" width="3" height="17" fill="#000"/>
<rect x="827" y="319" width="1" height="15" fill="#9598a1"/>
<rect x="833" y="291" width="1" height="5" fill="#000"/>
<rect x="833" y="304" width="1" height="3" fill="#000"/>
<rect x="832" y="296" width="3" height="8" fill="#000"/>
<rect x="833" y="297" width="1" height="6" fill="#fff"/>
<rect x="838" y="290" width="1" height="20" fill="#000"/>
<rect x="837" y="279" width="3" height="11" fill="#000"/>
<rect x="838" y="280" width="1" height="9" fill="#9598a1"/>
<rect x="844" y="286" width="1" height="4" fill="#000"/>
<rect x="844" y="296" width="1" height="8" fill="#000"/>
<rect x="843" y="290" width="3" height="6" fill="#000"/>
<rect x="844" y="291" width="1" height="4" fill="#fff"/>
<rect x="849" y="318" width="1" height="5" fill="#000"/>
<rect x="848" y="304" width="3" height="14" fill="#000"/>
<rect x="849" y="305" width="1" height="12" fill="#9598a1"/>
<rect x="855" y="316" width="1" height="9" fill="#000"/>
<rect x="855" y="334" width="1" height="10" fill="#000"/>
<rect x="854" y="325" width="3" height="9" fill="#000"/>
<rect x="855" y="326" width="1" height="7" fill="#9598a1"/>
<rect x="861" y="304" width="1" height="3" fill="#000"/>
<rect x="861" y="314" width="1" height="3" fill="#000"/>
<rect x="860" y="307" width="3" height="7" fill="#000"/>
<rect x="861" y="308" width="1" height="5" fill="#fff"/>
</g>
<!-- channel -->
<line x1="104.2" y1="4" x2="1013" y2="491" stroke="#9c9c9c" stroke-width="1.1"/>
<line x1="14.5" y1="258" x2="449.3" y2="491" stroke="#9c9c9c" stroke-width="1.1"/>
<g shape-rendering="crispEdges">
<!-- dotted -->
<line x1="432" y1="186.5" x2="1024" y2="186.5" stroke="#1d3ea8" stroke-width="1" stroke-dasharray="1 2"/>
<line x1="516" y1="224.5" x2="1024" y2="224.5" stroke="#1d3ea8" stroke-width="1" stroke-dasharray="1 2"/>
<line x1="766" y1="365.5" x2="1024" y2="365.5" stroke="#1d3ea8" stroke-width="1" stroke-dasharray="1 2"/>
<!-- dashed fib -->
<line x1="515" y1="316.5" x2="675" y2="316.5" stroke="#3f63c8" stroke-width="1" stroke-dasharray="6 5"/>
<line x1="649" y1="396.5" x2="974" y2="396.5" stroke="#3f63c8" stroke-width="1" stroke-dasharray="6 5"/>
<!-- blue solid -->
<rect x="837" y="279" width="187" height="1" fill="#17399a"/>
<rect x="777" y="283" width="247" height="1" fill="#17399a"/>
<rect x="794" y="361" width="230" height="1" fill="#17399a"/>
<!-- green lines -->
<rect x="15" y="430" width="1009" height="1" fill="#1fa947"/>
<rect x="649" y="466" width="375" height="1" fill="#1fa947"/>
<rect x="15" y="477" width="1009" height="1" fill="#1fa947"/>
</g>
<!-- green arrows -->
<g fill="#3bb82c" stroke="none">
<path d="M718.4 466.3 l4.5 8.6 h-3 v10.4 a1.5 1.5 0 0 1 -3 0 v-10.4 h-3 z"/>
<path d="M811.6 409.8 l4.5 8.6 h-3 v12.2 h-3 v-12.2 h-3 z"/>
<path d="M856.3 350.4 l4.5 8.6 h-3 v8.0 a1.5 1.5 0 0 1 -3 0 v-8.0 h-3 z"/>
</g>
<!-- blue arrows -->
<g stroke="#1818f5" stroke-width="2.9" stroke-linecap="round" fill="#1818f5">
<line x1="866.9" y1="273.9" x2="879.5" y2="253.5"/>
<line x1="866.9" y1="289.7" x2="881.6" y2="307.8"/>
</g>
<g fill="#1818f5">
<polygon points="883.6,246.2 883.1,256.3 875.8,250.9"/>
<polygon points="887.4,313.6 878.4,310.8 884.7,304.8"/>
</g>
</g>
<!-- axes -->
<g shape-rendering="crispEdges">
<rect x="1023" y="5" width="1" height="513" fill="#000"/>
<rect x="15" y="491" width="1071" height="1" fill="#000"/>
</g>
<!-- logo -->
<rect x="800" y="18" width="210.8" height="28.7" fill="#1a2730"/>
<g fill="none" stroke-width="3.2" stroke-linecap="round" stroke-linejoin="round">
<g stroke="#fff">
<path d="M821.3 24.9 A10.65 10.65 0 1 0 821.3 38.8"/>
<path d="M831.1 21.2 V42.4"/>
<path d="M839.7 21.2 H857.1 M848.4 21.2 V42.4"/>
<path d="M863.8 21.2 L872.4 33 L881.2 21.2 M872.4 33 V42.4"/>
</g>
<g stroke="#f8f31a">
<path d="M900.3 21.2 V42.4"/>
<path d="M911.6 42.4 V21.2 L929.3 42.4 V21.2"/>
<path d="M940.7 21.2 V42.4 H947.4 A10.6 10.6 0 0 0 947.4 21.2 Z"/>
<path d="M983 21.2 H968.3 V42.4 H983 M968.3 31.8 H979"/>
<path d="M991 21.2 L1008.6 42.4 M1008.6 21.2 L991 42.4"/>
</g>
</g>
</svg>

<div class="t" style="left:22px;top:14px;font-size:12px;line-height:14px;color:#4a4a4a;letter-spacing:-0.31px;">Hang Seng Index, 1D, TVC</div>

<div class="ann" style="left:683.7px;top:127px;width:300px;">The Hang Seng has printed three higher<br>lows and held above gap support after<br>gapping above 24k</div>
<div class="ann" style="left:616px;top:248px;font-size:15.5px">25k is likely to be a pivotal level</div>

<div class="t" style="left:682px;top:302px;font-size:12px;line-height:14px;color:#3f63c8;letter-spacing:-0.1px;">38.20<span style="display:inline-block;transform:scaleX(.66);transform-origin:left">%</span></div>
<div class="t" style="left:981px;top:382px;font-size:12px;line-height:14px;color:#3f63c8;letter-spacing:-0.1px;">61.80<span style="display:inline-block;transform:scaleX(.66);transform-origin:left">%</span></div>
<div class="t" style="left:967.3px;top:432px;font-size:9.6px;line-height:14px;color:#16a548;-webkit-text-stroke:0.3px #16a548;">Sep '20 low</div>
<div class="t" style="left:965px;top:479px;font-size:9.6px;line-height:14px;color:#16a548;-webkit-text-stroke:0.3px #16a548;">May '20 low</div>

<!-- price labels -->
<div class="pl" style="top:10.70px">28400.00</div>
<div class="pl" style="top:41.70px">28000.00</div>
<div class="pl" style="top:73.70px">27600.00</div>
<div class="pl" style="top:104.70px">27200.00</div>
<div class="pl" style="top:136.70px">26800.00</div>
<div class="pl" style="top:167.70px">26400.00</div>
<div class="pl" style="top:198.70px">26000.00</div>
<div class="pl" style="top:230.70px">25600.00</div>
<div class="pl" style="top:293.70px">24800.00</div>
<div class="pl" style="top:324.70px">24400.00</div>
<div class="pl" style="top:386.70px">23600.00</div>
<div class="pl" style="top:418.70px">23200.00</div>
<div class="pl" style="top:450.70px">22800.00</div>
<div class="pl" style="top:481.70px">22400.00</div>

<div class="bx bl" style="top:177.75px;height:16.5px;line-height:19.9px;border-radius:0 2px 2px 0">26234.94</div>
<div class="bx bl" style="top:216px;height:16.5px;line-height:19.6px;border-radius:0 2px 2px 0">25746.71</div>
<div class="bx bl" style="top:259px;height:17.5px;line-height:18.45px;border-radius:0 2px 0 0">25050.59</div>
<div class="bx bl" style="top:275.75px;height:16.25px;line-height:17.45px;border-radius:0 0 2px 0">25000.00</div>
<div class="bx" style="top:299.5px;left:1023px;width:60px;padding-left:10px;height:16.25px;line-height:17.45px;background:#fff;color:#0a0a0a;-webkit-text-stroke:0.2px #0a0a0a;font-weight:normal;border-radius:0">24686.28</div>
<div class="bx bl" style="top:353.25px;height:17px;line-height:17.45px;border-radius:0 2px 0 0">24000.00</div>
<div class="bx bl" style="top:369.5px;height:16.25px;line-height:17.45px;border-radius:0 0 2px 0">23951.60</div>
<div class="bx gr" style="top:422.25px;height:16.25px;line-height:18.6px;border-radius:0 2px 2px 0">23124.25</div>
<div class="bx gr" style="top:458px;height:17px;line-height:18.6px;border-radius:0 2px 0 0">22665.25</div>
<div class="bx gr" style="top:474.25px;height:15.75px;line-height:16.95px;border-radius:0 0 2px 0">22519.73</div>

<div class="xl" style="left:115.5px">Aug</div>
<div class="xl" style="left:237.5px">Sep</div>
<div class="xl" style="left:353.5px">Oct</div>
<div class="xl" style="left:454.5px">Nov</div>
<div class="xl" style="left:576.5px">Dec</div>
<div class="xl" style="left:699.5px;font-weight:bold">2022</div>
<div class="xl" style="left:816px">Feb</div>
<div class="xl" style="left:910px">Mar</div>
</body></html>
